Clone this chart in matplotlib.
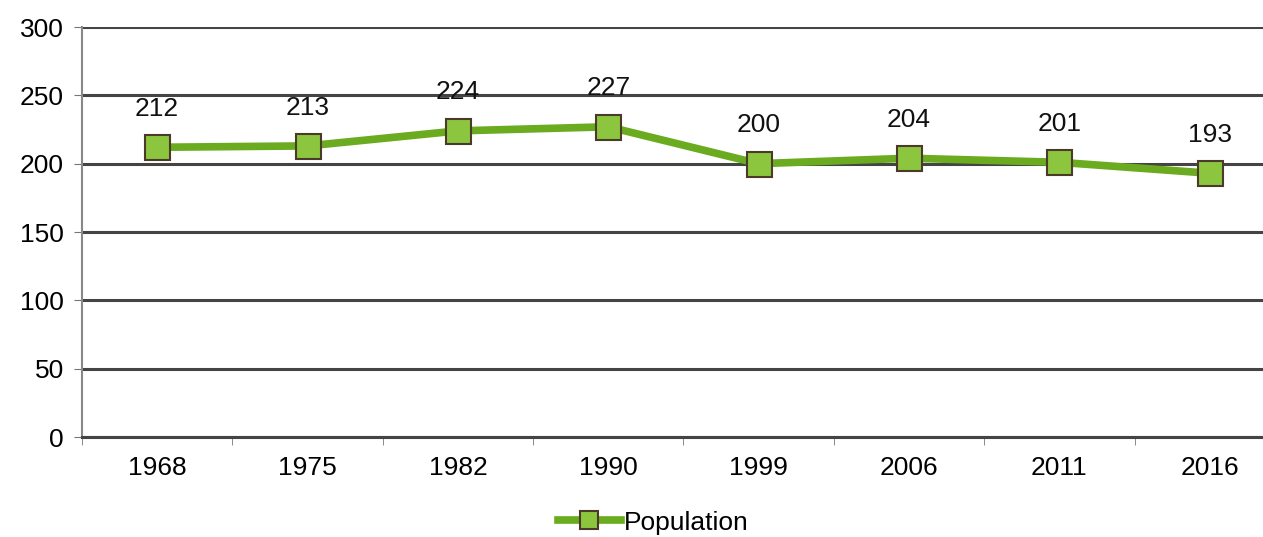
import matplotlib
matplotlib.use('Agg')
import matplotlib.pyplot as plt
import numpy as np

years = ['1968', '1975', '1982', '1990', '1999', '2006', '2011', '2016']
population = [212, 213, 224, 227, 200, 204, 201, 193]
y_ticks = [0, 50, 100, 150, 200, 250, 300]

plt.rcParams['font.family'] = ['Liberation Sans', 'DejaVu Sans']

fig = plt.figure(figsize=(12.63, 5.37), dpi=100)
# plot area runs past the right edge, like the cropped scan
ax = fig.add_axes([0.0649, 0.1862, 0.9525, 0.7635])

x = np.arange(len(years))
line, = ax.plot(x, population, color='#6aab20', lw=5.5, marker='s', markersize=18,
                markerfacecolor='#8cc63e', markeredgecolor='#4a3a2a', markeredgewidth=1.5,
                label='Population', zorder=3)

for xi, v in zip(x, population):
    ax.annotate(str(v), (xi, v), xytext=(0, 19), textcoords='offset points',
                ha='center', va='bottom', fontsize=19, color='#111111')

ax.set_xlim(-0.5, len(years) - 0.5)
ax.set_ylim(0, 300)
ax.set_yticks(y_ticks)
ax.set_xticks(x)
ax.set_xticklabels(years)
ax.set_xticks(np.arange(-0.5, len(years)), minor=True)
ax.tick_params(axis='x', which='major', length=0, pad=14, labelsize=19)
ax.tick_params(axis='x', which='minor', length=6, color='#777777')
ax.tick_params(axis='y', length=6, color='#777777', labelsize=19, pad=7)

ax.grid(axis='y', color='#444444', lw=2.2)
ax.set_axisbelow(True)
for s in ['top', 'right']:
    ax.spines[s].set_visible(False)
ax.spines['left'].set_color('#888888')
ax.spines['left'].set_linewidth(1.5)
ax.spines['bottom'].set_color('#444444')
ax.spines['bottom'].set_linewidth(2.2)

fig.legend(handles=[line], loc='center', bbox_to_anchor=(0.517, 0.027), frameon=False,
           fontsize=19, handlelength=2.4, handletextpad=0.1, markerscale=0.75)

fig.savefig('out.png', dpi=100)
